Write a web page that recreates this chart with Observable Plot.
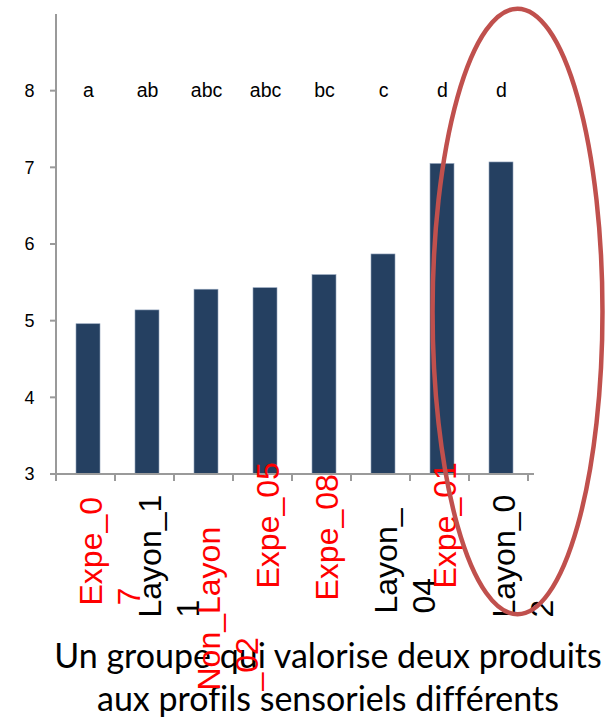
<!DOCTYPE html>
<html>
<head>
<meta charset="utf-8">
<script src="https://cdn.jsdelivr.net/npm/d3@7"></script>
<script src="https://cdn.jsdelivr.net/npm/@observablehq/plot@0.6"></script>
<style>
  html, body { margin: 0; padding: 0; background: #fff; }
  #wrap { position: relative; width: 608px; height: 721px; overflow: hidden; background: #fff; }
  #caption {
    position: absolute; left: 24px; top: 633px; width: 608px; z-index: 0;
    font-family: Lato, "Open Sans", sans-serif; font-size: 34px; line-height: 43px;
    text-align: center; color: #000; white-space: nowrap;
    font-variant-ligatures: none; font-feature-settings: "liga" 0;
  }
  #chart { position: absolute; left: 0; top: 0; z-index: 1; }
  #chart svg { background: transparent; }
</style>
</head>
<body>
<div id="wrap">
  <div id="caption">Un groupe qui valorise deux produits<br>aux profils sensoriels différents</div>
  <div id="chart"></div>
</div>
<script>
// ---- data ----
const categories = ["Expe_07", "Layon_11", "Non_Layon_02", "Expe_05", "Expe_08", "Layon_04", "Expe_01", "Layon_02"];
const values     = [4.96, 5.14, 5.41, 5.43, 5.60, 5.87, 7.05, 7.07];
const groups     = ["a", "ab", "abc", "abc", "bc", "c", "d", "d"];
// tick labels as wrapped in the picture
const tickLabels = ["Expe_0\n7", "Layon_1\n1", "Non_Layon\n_02", "Expe_05", "Expe_08", "Layon_\n04", "Expe_01", "Layon_0\n2"];
const yTicks     = [3, 4, 5, 6, 7, 8];

// ---- layout / style (not data) ----
const FONT = "'Liberation Sans', Arial, sans-serif";
const BAR = "#254061";
const AXIS = "#9a9a9a";
const letterRowValue = 8;                               // letters sit on the "8" gridline level
const labelStartOffset = [131, 143, 216, 114, 126, 139, 114, 143]; // px below axis where each rotated label begins
const highlight = {category: "Layon_02", shift: 0.28, rxSteps: 1.44, cy: 5.12, ry: 3.95};

const rows = categories.map((c, i) => ({cat: c, value: values[i], group: groups[i], label: tickLabels[i],
  color: c.startsWith("Layon") ? "#000000" : "#ff0000"}));

function decorations(index, scales, values_, dims) {
  const x = scales.x, y = scales.y;
  const step = x.step ? x.step() : (dims.width - dims.marginLeft - dims.marginRight) / categories.length;
  const g = d3.create("svg:g");
  const x0 = dims.marginLeft, x1 = dims.width - dims.marginRight;
  const yb = y(3), yt = y(9);
  g.append("line").attr("x1", x0).attr("x2", x0).attr("y1", yt).attr("y2", yb + 1)
    .attr("stroke", AXIS).attr("stroke-width", 2);
  for (const t of yTicks) {
    g.append("line").attr("x1", x0 - 6).attr("x2", x0).attr("y1", y(t)).attr("y2", y(t))
      .attr("stroke", AXIS).attr("stroke-width", 2);
  }
  g.append("line").attr("x1", x0 - 6).attr("x2", x1 + 1).attr("y1", yb).attr("y2", yb)
    .attr("stroke", AXIS).attr("stroke-width", 2);
  for (let k = 0; k <= categories.length; k++) {
    const xx = x0 + k * step;
    g.append("line").attr("x1", xx).attr("x2", xx).attr("y1", yb).attr("y2", yb + 7)
      .attr("stroke", AXIS).attr("stroke-width", 2);
  }
  return g.node();
}

function ellipse(index, scales, values_, dims) {
  const x = scales.x, y = scales.y;
  const step = x.step ? x.step() : (dims.width - dims.marginLeft - dims.marginRight) / categories.length;
  const bw = x.bandwidth ? x.bandwidth() : 0;
  const cx = x(highlight.category) + bw / 2 + highlight.shift * step;
  const cy = y(highlight.cy);
  const ry = y(highlight.cy - highlight.ry) - cy;
  const rx = highlight.rxSteps * step;
  return d3.create("svg:ellipse").attr("cx", cx).attr("cy", cy).attr("rx", rx).attr("ry", ry)
    .attr("fill", "none").attr("stroke", "#C0504D").attr("stroke-width", 4.5).node();
}

const labelMarks = rows.map((r, i) => Plot.text([r], {
  x: "cat", text: "label", fill: "color",
  frameAnchor: "bottom", dy: labelStartOffset[i], dx: -14,
  rotate: -90, textAnchor: "start", lineAnchor: "top", lineHeight: 1.2,
  fontSize: 32, fontFamily: FONT
}));

const chart = Plot.plot({
  width: 608,
  height: 721,
  marginLeft: 56,
  marginRight: 75,
  marginTop: 14,
  marginBottom: 247,
  style: {background: "transparent", fontFamily: FONT, overflow: "visible"},
  x: {domain: categories, paddingInner: 0.6, paddingOuter: 0.3, axis: null},
  y: {domain: [3, 9], axis: null},
  marks: [
    Plot.barY(rows, {x: "cat", y1: 3, y2: "value", fill: BAR, stroke: "#8fa1ba", strokeWidth: 0.6}),
    Plot.text(rows, {x: "cat", y: () => letterRowValue, text: "group", fontSize: 19.5, fill: "#000", fontFamily: FONT}),
    Plot.text(yTicks, {y: d => d, text: d => String(d), frameAnchor: "left", dx: -22, textAnchor: "end",
      fontSize: 18, fill: "#000", fontFamily: FONT}),
    decorations,
    ...labelMarks,
    ellipse
  ]
});
document.getElementById("chart").appendChild(chart);
</script>
</body>
</html>
